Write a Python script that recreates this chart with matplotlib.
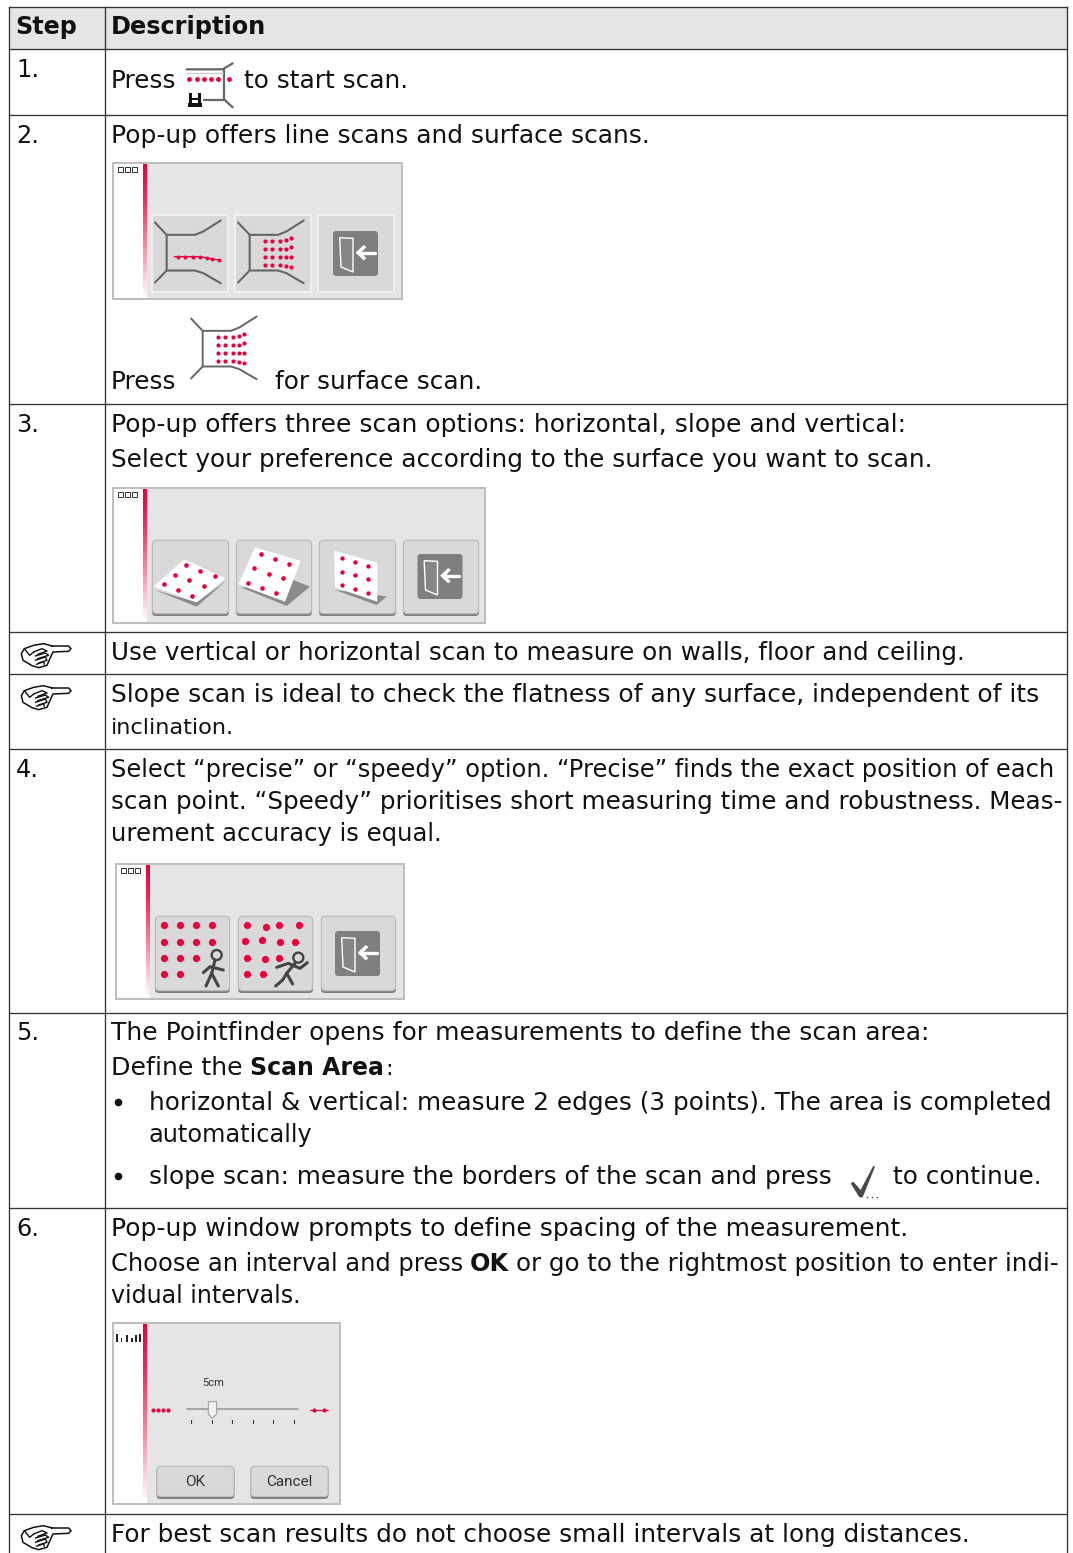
import numpy as np
import matplotlib as mpl
import matplotlib.pyplot as plt
from matplotlib.colors import LinearSegmentedColormap
from matplotlib.patches import Rectangle, Polygon, Circle, FancyBboxPatch

mpl.rcParams['font.family'] = ['DejaVu Sans']
W, H = 1073, 1553

# table text
step_labels = ['1.', '2.', '3.', '4.', '5.', '6.']
header = ['Step', 'Description']
row1 = ['Press', 'to start scan.']
row2 = ['Pop-up offers line scans and surface scans.', 'Press', 'for surface scan.']
row3 = ['Pop-up offers three scan options: horizontal, slope and vertical:',
        'Select your preference according to the surface you want to scan.']
note1 = 'Use vertical or horizontal scan to measure on walls, floor and ceiling.'
note2 = ['Slope scan is ideal to check the flatness of any surface, independent of its', 'inclination.']
row4 = ['Select “precise” or “speedy” option. “Precise” finds the exact position of each',
        'scan point. “Speedy” prioritises short measuring time and robustness. Meas-',
        'urement accuracy is equal.']
row5 = ['The Pointfinder opens for measurements to define the scan area:', 'Define the', 'Scan Area', ':',
        'horizontal & vertical: measure 2 edges (3 points). The area is completed', 'automatically',
        'slope scan: measure the borders of the scan and press', 'to continue.']
row6 = ['Pop-up window prompts to define spacing of the measurement.', 'Choose an interval and press', 'OK',
        'or go to the rightmost position to enter indi-', 'vidual intervals.']
note3 = 'For best scan results do not choose small intervals at long distances.'
slider_label = '5cm'
button_labels = ['OK', 'Cancel']

row_lines = [7, 49, 115, 404, 632, 674, 749, 1013, 1208, 1514]
RED = '#e8003c'
fig = plt.figure(figsize=(W / 100, H / 100), dpi=100)
ax = fig.add_axes([0, 0, 1, 1])
ax.set_xlim(0, W)
ax.set_ylim(H, 0)
ax.axis('off')
rend = fig.canvas.get_renderer()
red_fade = LinearSegmentedColormap.from_list('fade', [(0, RED), (0.25, '#ee2a5a'), (0.7, '#f7a5bb'), (1, '#ffffff')])


def txt(s, x0, x1, y, bold=False):
    # fit the string between x0 and x1 with its baseline on y, but keep it from getting small
    t = ax.text(x0, y - 1, s, fontsize=19, va='baseline', ha='left', color='#111111',
                fontweight='bold' if bold else 'normal')
    w = t.get_window_extent(rend).width
    t.set_fontsize(max(19 * (x1 - x0) / w, 16.2))
    return t


def poly(pts, ox, oy, k=1 / 3, color='#666666', lw=1.4, zorder=5):
    xs = [ox + p[0] * k for p in pts]
    ys = [oy + p[1] * k for p in pts]
    ax.plot(xs, ys, color=color, lw=lw, solid_capstyle='round', solid_joinstyle='round', zorder=zorder)


def fill(pts, ox, oy, color, k=1 / 3, zorder=5, ec='none', lw=0):
    p = [(ox + a * k, oy + b * k) for a, b in pts]
    ax.add_patch(Polygon(p, closed=True, fc=color, ec=ec, lw=lw, zorder=zorder))


def dots(xs, ys, size, ox=0, oy=0, k=1 / 3, zorder=6):
    ax.scatter([ox + a * k for a in xs], [oy + b * k for b in ys], s=size, color=RED, lw=0, zorder=zorder)


def popup(x0, y0, x1, y1, boxes=True):
    ax.add_patch(Rectangle((x0, y0), x1 - x0, y1 - y0, fc='#e5e5e5', ec='#bdbdbd', lw=1.4, zorder=2))
    ax.add_patch(Rectangle((x0 + 1, y0 + 1), 29, y1 - y0 - 2, fc='white', ec='none', zorder=3))
    grad = np.linspace(0, 1, 256).reshape(-1, 1)
    ax.imshow(grad, extent=(x0 + 30, x0 + 34, y1 - 1, y0 + 1), cmap=red_fade, aspect='auto', zorder=4)
    if boxes:
        for i in range(3):
            ax.add_patch(Rectangle((x0 + 5 + i * 7, y0 + 4), 5, 5, fc='white', ec='#333333', lw=0.7, zorder=5))


def flat_button(x0, y0, x1, y1):
    ax.add_patch(Rectangle((x0, y0), x1 - x0, y1 - y0, fc='#d9d9d9', ec='#f2f2f2', lw=1.3, zorder=4))


def round_button(x0, y0, x1, y1):
    # darker lower edge sits behind the face of the button
    ax.add_patch(FancyBboxPatch((x0 + 3, y0 + 4), x1 - x0 - 6, y1 - y0 - 6, boxstyle='round,pad=3,rounding_size=4',
                                fc='#7d7d7d', ec='none', zorder=4))
    ax.add_patch(FancyBboxPatch((x0 + 3, y0 + 3), x1 - x0 - 6, y1 - y0 - 7, boxstyle='round,pad=2.6,rounding_size=4',
                                fc='#d9d9d9', ec='#bcbcbc', lw=0.9, zorder=4.5))


def exit_icon(x, y):
    ax.add_patch(FancyBboxPatch((x + 2, y + 2), 41, 41, boxstyle='round,pad=2,rounding_size=3',
                                fc='#7f7f7f', ec='none', zorder=5))
    fill([(20, 20), (60, 22), (60, 123), (24, 108)], x, y, '#868686', zorder=6, ec='white', lw=1.0)
    poly([(75, 65), (125, 65)], x, y, color='white', lw=2.4, zorder=7)
    fill([(68, 65), (92, 42), (100, 48), (84, 65), (100, 82), (92, 88)], x, y, 'white', zorder=7)


def road(x, y, lw=1.5):
    # x, y is the upper left corner of the icon
    poly([(0, 6), (35, 43), (120, 43), (145, 33), (197, 0)], x, y, lw=lw)
    poly([(35, 43), (35, 150), (120, 150), (145, 158), (197, 188)], x, y, lw=lw)
    poly([(35, 150), (0, 186)], x, y, lw=lw)


def surface_dots(x, y):
    col = [80, 103, 125, 145, 160]
    for j, r in enumerate([60, 84, 108, 133]):
        offs = [[0, 0, 0, -3, -8], [0, 0, 0, 0, -4], [0, 0, 0, 0, 0], [0, 0, 0, 2, 7]][j]
        dots(col, [r + o for o in offs], 9, x, y)


def hand(x, y):
    body = [(155, 497), (205, 497), (212, 505), (205, 513), (158, 515), (150, 532), (140, 555), (115, 562),
            (95, 556), (85, 550), (68, 540), (63, 520), (72, 505), (100, 495), (130, 490), (155, 497)]
    ox, oy = x - 62 / 3, y - 488 / 3
    fill(body, ox, oy, 'white', zorder=5)
    poly(body, ox, oy, color='#111111', lw=1.1, zorder=6)
    for a in [[(100, 515), (125, 505), (140, 512), (112, 522)], [(105, 527), (135, 518), (145, 525), (112, 535)],
              [(105, 540), (135, 530), (140, 540), (115, 548)], [(72, 505), (88, 525), (100, 515)],
              [(108, 552), (130, 544), (132, 552)]]:
        poly(a, ox, oy, color='#111111', lw=1.0, zorder=6)


# table frame
ax.add_patch(Rectangle((8.5, 7), 1058.5, 42, fc='#e5e5e5', ec='none', zorder=0))
for y in row_lines:
    ax.plot([8.5, 1067], [y, y], color='#333333', lw=0.95, zorder=1)
for x in [8.5, 104.5, 1067]:
    ax.plot([x, x], [7, H], color='#333333', lw=0.95, zorder=1)

# left column
txt(header[0], 15, 77, 35, bold=True)
for s, y in zip(step_labels, [78, 144, 433, 778, 1041, 1237]):
    txt(s, 16, 39, y)
for y in [643, 685, 1525]:
    hand(21, y)

# right column
txt(header[1], 111, 266, 35, bold=True)
txt(row1[0], 111, 176, 89)
txt(row1[1], 244, 408, 89)
txt(row2[0], 111, 649, 144)
txt(row2[1], 111, 176, 390)
txt(row2[2], 275, 482, 390)
txt(row3[0], 111, 906, 433)
txt(row3[1], 111, 933, 468)
txt(note1, 111, 966, 661)
txt(note2[0], 111, 1038, 703)
txt(note2[1], 111, 217, 735)
txt(row4[0], 111, 1056, 778)
txt(row4[1], 111, 1061, 810)
txt(row4[2], 111, 441, 842)
txt(row5[0], 111, 928, 1041)
txt(row5[1], 111, 243, 1076)
txt(row5[2], 250, 384, 1076, bold=True)
txt(row5[3], 385, 392, 1076)
txt(row5[4], 149, 1049, 1111)
txt(row5[5], 149, 313, 1143)
txt(row5[6], 149, 832, 1185)
txt(row5[7], 893, 1042, 1185)
ax.scatter([118, 118], [1102, 1176], s=30, color='#111111', lw=0, zorder=5)
txt(row6[0], 111, 909, 1237)
txt(row6[1], 111, 464, 1272)
txt(row6[2], 470, 509, 1272, bold=True)
txt(row6[3], 516, 1060, 1272)
txt(row6[4], 111, 301, 1304)
txt(note3, 111, 967, 1543)

# start scan icon in step 1
poly([(560, 208), (668, 208), (698, 190)], 0, 0, lw=1.6)
poly([(672, 208), (672, 298), (698, 322)], 0, 0, lw=1.6)
poly([(612, 300), (672, 300)], 0, 0, lw=1.6)
poly([(560, 220), (668, 220)], 0, 0, color='#cccccc', lw=0.8)
dots([567, 590, 612, 633, 655, 688], [238] * 6, 12)
ax.add_patch(Rectangle((188, 103), 14, 4, fc='#111111', zorder=6))
ax.add_patch(Rectangle((189, 92.5), 3, 11, fc='#111111', zorder=6))
ax.add_patch(Rectangle((198, 92.5), 3, 11, fc='#111111', zorder=6))
ax.add_patch(Rectangle((191, 98), 8, 2, fc='#111111', zorder=6))

# line or surface popup
popup(113, 163, 402, 299)
flat_button(152, 215, 228, 292)
flat_button(235, 215, 311, 292)
flat_button(318, 215, 394, 292)
road(155, 220.5)
road(238, 220.5)
exit_icon(333, 231)
poly([(523, 770), (600, 770), (655, 780)], 0, 0, color=RED, lw=1.0, zorder=6)
dots([533, 555, 578, 600, 620, 636, 656], [770, 770, 770, 770, 773, 776, 781], 8)
surface_dots(238, 220.5)
road(191, 316.5, lw=1.4)
surface_dots(191, 316.5)

# scan options popup
popup(113, 488, 485, 623)
for a, b in [(152, 229), (236, 312), (319, 396), (403, 479)]:
    round_button(a, 540, b, 615)
exit_icon(417.5, 554)
fill([(465, 330), (590, 380), (682, 300), (590, 367)], 0, 480, '#8b8b8b')
fill([(460, 320), (553, 238), (677, 295), (590, 367)], 0, 480, 'white', zorder=5.5)
dots([491, 534, 577, 524, 567, 611, 558, 601, 644], [313, 330, 347, 285, 301, 318, 256, 272, 289], 11, 0, 480)
fill([(725, 323), (860, 378), (930, 320), (880, 300)], 0, 480, '#8b8b8b')
fill([(715, 313), (765, 202), (902, 243), (855, 365)], 0, 480, 'white', zorder=5.5)
dots([743, 786, 829, 763, 806, 849, 782, 825, 868], [308, 323, 338, 265, 281, 295, 222, 237, 253], 11, 0, 480)
fill([(1005, 330), (1130, 375), (1160, 350), (1132, 345)], 0, 480, '#8b8b8b')
fill([(1003, 212), (1132, 248), (1132, 365), (1005, 322)], 0, 480, 'white', zorder=5.5)
dots([1025, 1064, 1103, 1025, 1064, 1103, 1025, 1064, 1103], [235, 246, 257, 275, 286, 297, 315, 326, 338], 10, 0, 480)

# precise or speedy popup
popup(116, 864, 404, 999)
for a, b in [(155, 230), (238, 313), (321, 396)]:
    round_button(a, 916, b, 992)
exit_icon(335, 931)
dots([193, 241, 289, 337, 193, 241, 289, 337, 193, 241, 289, 193, 241],
     [196, 196, 196, 196, 245, 245, 245, 245, 293, 293, 293, 342, 342], 27, 100, 860)
dots([441, 497, 537, 596, 434, 487, 540, 586, 441, 494, 538, 441, 489],
     [196, 201, 196, 194, 242, 240, 245, 245, 293, 298, 293, 342, 342], 27, 100, 860)
ax.add_patch(Circle((100 + 350 / 3, 860 + 285 / 3), 5, fc='none', ec='#444444', lw=1.7, zorder=7))
poly([(345, 300), (335, 340)], 100, 860, color='#444444', lw=2.2, zorder=7)
poly([(310, 338), (330, 320), (370, 330)], 100, 860, color='#444444', lw=2.2, zorder=7)
poly([(318, 378), (335, 340), (355, 378)], 100, 860, color='#444444', lw=2.2, zorder=7)
ax.add_patch(Circle((100 + 595 / 3, 860 + 293 / 3), 5, fc='none', ec='#444444', lw=1.7, zorder=7))
poly([(585, 310), (560, 340), (578, 372)], 100, 860, color='#444444', lw=2.2, zorder=7)
poly([(530, 322), (565, 310), (600, 325), (622, 308)], 100, 860, color='#444444', lw=2.2, zorder=7)
poly([(560, 340), (548, 360), (527, 378)], 100, 860, color='#444444', lw=2.2, zorder=7)

# interval popup
popup(113, 1323, 340, 1504, boxes=False)
for a, h in zip([349, 362, 378, 394, 405, 418], [25, 14, 22, 14, 22, 25]):
    ax.add_patch(Rectangle((a / 3, 1310 + (97 - h) / 3), 1.5, h / 3, fc='#222222', ec='none', zorder=6))
ax.text(213, 1383, slider_label, fontsize=8, ha='center', va='center', color='#333333', zorder=6, family='Roboto')
poly([(562, 297), (895, 297)], 0, 1310, color='#999999', lw=1.2)
fill([(625, 275), (650, 275), (650, 312), (637, 325), (625, 312)], 0, 1310, '#f2f2f2', zorder=6, ec='#999999', lw=0.7)
for a in [574, 637, 697, 760, 820, 883]:
    poly([(a, 330), (a, 338)], 0, 1310, color='#333333', lw=0.8)
dots([459, 474, 489, 504], [299] * 4, 9, 0, 1310)
poly([(930, 299), (985, 299)], 0, 1310, color=RED, lw=0.8, zorder=6)
dots([942, 972], [299, 299], 9, 0, 1310)
for (a, b), s in zip([(156.5, 234.5), (250.5, 328.5)], button_labels):
    round_button(a, 1466, b, 1498)
    ax.text((a + b) / 2, 1481.5, s, fontsize=11, ha='center', va='center', color='#333333', zorder=6, family='Roboto')

# check mark in step 5
fill([(92, 100), (100, 95), (122, 120), (160, 47), (165, 50), (128, 142), (118, 142)], 820, 1150, '#4a4a4a')
ax.scatter([867, 872, 877], [1197, 1197, 1197], s=1.5, color='#555555', lw=0, zorder=6)

ax.set_xlim(0, W)
ax.set_ylim(H, 0)
fig.savefig('out.png', dpi=100)
